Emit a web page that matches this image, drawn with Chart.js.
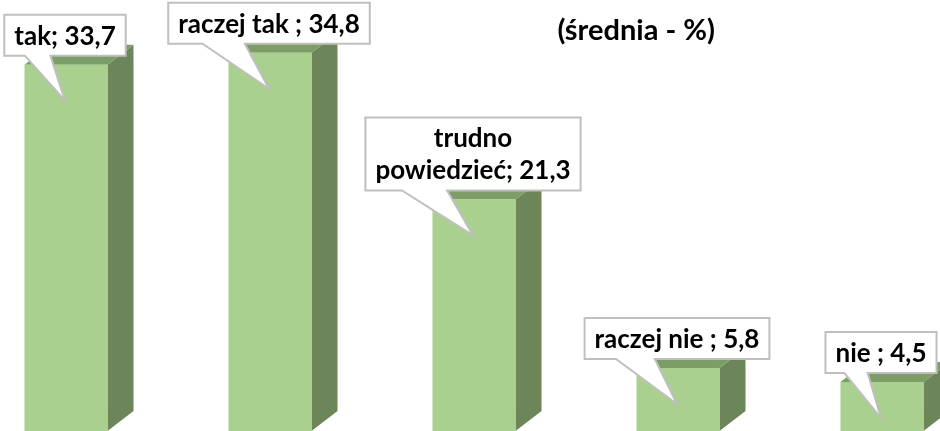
<!DOCTYPE html>
<html>
<head>
<meta charset="utf-8">
<script src="https://cdn.jsdelivr.net/npm/chart.js@4"></script>
<style>
  html, body { margin: 0; padding: 0; background: #fff; overflow: hidden; }
  #wrap { position: absolute; left: -36px; top: 0; width: 1020px; height: 431px; }
</style>
</head>
<body>
<div id="wrap"><canvas id="Odp-Chart" width="1020" height="431"></canvas></div>
<script>
const categories = ["tak", "raczej tak ", ["trudno", "powiedzieć"], "raczej nie ", "nie "];
const values = [33.7, 34.8, 21.3, 5.8, 4.5];
const subtitle = "(średnia - %)";

const frontColor = "#a9d08e";
const sideColor = "#6c865a";
const topColor = "#7d9d66";
const depthX = 26;
const depthY = 20;
const labelFont = "bold 26px Lato";
const titleFont = "bold 29px Lato";

function labelLines(i) {
  const cat = categories[i];
  const lines = Array.isArray(cat) ? cat.slice() : [cat];
  lines[lines.length - 1] += "; " + values[i].toFixed(1).replace(".", ",");
  return lines;
}

// side and top faces behind every front rectangle
const box3d = {
  id: "box3d",
  beforeDatasetsDraw(chart) {
    const ctx = chart.ctx;
    chart.getDatasetMeta(0).data.forEach((bar) => {
      const { x, y, base, width } = bar.getProps(["x", "y", "base", "width"], true);
      const l = x - width / 2;
      const r = x + width / 2;
      ctx.save();
      ctx.fillStyle = sideColor;
      ctx.beginPath();
      ctx.moveTo(r, y);
      ctx.lineTo(r + depthX, y - depthY);
      ctx.lineTo(r + depthX, base - depthY);
      ctx.lineTo(r, base);
      ctx.closePath();
      ctx.fill();
      ctx.fillStyle = topColor;
      ctx.beginPath();
      ctx.moveTo(l, y);
      ctx.lineTo(l + depthX, y - depthY);
      ctx.lineTo(r + depthX, y - depthY);
      ctx.lineTo(r, y);
      ctx.closePath();
      ctx.fill();
      ctx.restore();
    });
  },
};

// callout boxes with a wedge pointing into the bar
const callouts = {
  id: "callouts",
  afterDatasetsDraw(chart) {
    const ctx = chart.ctx;
    ctx.save();
    ctx.font = labelFont;
    ctx.textAlign = "center";
    ctx.textBaseline = "middle";
    chart.getDatasetMeta(0).data.forEach((bar, i) => {
      const { x, y } = bar.getProps(["x", "y"], true);
      const lines = labelLines(i);
      const lineH = 32;
      const textW = Math.max(...lines.map((t) => ctx.measureText(t).width));
      const w = textW + 20;
      const h = lines.length * lineH + 9;
      const bx = x - 1 - w / 2;
      const bottom = y - 9;
      const top = bottom - h;
      const tipX = x - 1;
      const tipY = y + 36;
      ctx.beginPath();
      ctx.moveTo(bx, top);
      ctx.lineTo(bx + w, top);
      ctx.lineTo(bx + w, bottom);
      ctx.lineTo(bx + 0.38 * w, bottom);
      ctx.lineTo(tipX, tipY);
      ctx.lineTo(bx + 0.17 * w, bottom);
      ctx.lineTo(bx, bottom);
      ctx.closePath();
      ctx.fillStyle = "#ffffff";
      ctx.fill();
      ctx.lineWidth = 2;
      ctx.strokeStyle = "#bfbfbf";
      ctx.stroke();
      ctx.fillStyle = "#000000";
      lines.forEach((t, k) => {
        ctx.fillText(t, x - 1, top + 4.5 + lineH * (k + 0.5) + 1);
      });
    });
    // second title line
    const area = chart.chartArea;
    ctx.font = titleFont;
    ctx.fillText(subtitle, area.left + (area.right - area.left) * 0.659, 31);
    ctx.restore();
  },
};

const config = {
  type: "bar",
  data: {
    labels: categories,
    datasets: [
      {
        data: values,
        backgroundColor: frontColor,
        borderWidth: 0,
        categoryPercentage: 1,
        barPercentage: 0.407,
      },
    ],
  },
  options: {
    responsive: false,
    devicePixelRatio: 1,
    animation: false,
    layout: { padding: 0 },
    plugins: {
      legend: { display: false },
      tooltip: { enabled: false },
      title: { display: false },
    },
    scales: {
      x: { display: false },
      y: { display: false, min: 0, max: 39.65 },
    },
  },
  plugins: [box3d, callouts],
};

let myChart = new Chart(document.getElementById("Odp-Chart"), config);
</script>
</body>
</html>
